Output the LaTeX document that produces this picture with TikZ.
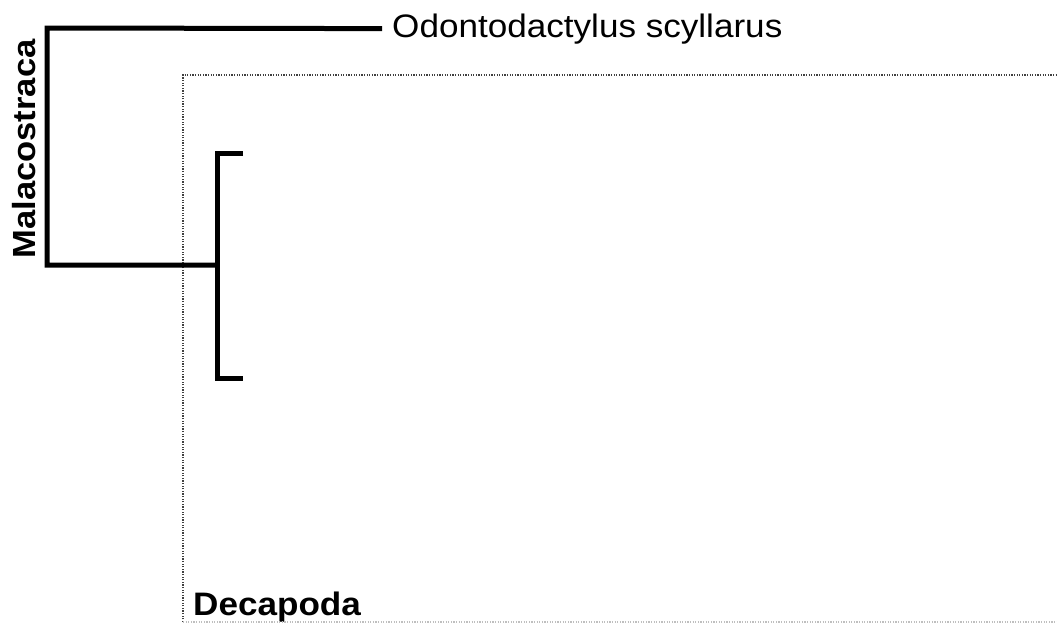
\documentclass[tikz,border=0pt]{standalone}
\usepackage{fontspec}
\setmainfont[FakeStretch=1.08]{Liberation Sans}
\begin{document}
\begin{tikzpicture}[x=1pt,y=-1pt,
    cabang/.style={line width=5pt},
    kotak/.style={line width=1.2pt,dash pattern=on 1.2pt off 1.4pt,black!75}]
      \useasboundingbox (0,0) rectangle (1057,625);

      % Koordinat titik cabang pohon
      \coordinate (A) at (47,28);
      \coordinate (B) at (47,265);
      \coordinate (C) at (217,265);
      \coordinate (D) at (217,153);
      \coordinate (E) at (217,378);
      \coordinate (F) at (243,153);
      \coordinate (G) at (243,378);

      % Koordinat sudut kotak bertitik (Decapoda)
      \coordinate (K1) at (183,622);
      \coordinate (K2) at (183,75);
      \coordinate (K3) at (1062,75);
      \coordinate (K4) at (1062,622);

      % Label takson
      \node[anchor=base west,inner sep=0pt,font=\fontsize{32.5}{36}\selectfont]
        (odo) at (392,37) {Odontodactylus scyllarus};
      \node[anchor=base,inner sep=0pt,rotate=90,font=\fontsize{32}{36}\selectfont\bfseries]
        (mal) at (35,149) {Malacostraca};
      \node[anchor=base west,inner sep=0pt,font=\fontsize{32.5}{36}\selectfont\bfseries]
        (dec) at (193,615) {Decapoda};
      \coordinate (O) at ([xshift=-10pt]odo.west);

      % Menggambar kotak bertitik
      \draw[kotak] (K1) -- (K2) -- (K3);
      \draw[kotak,black!25] (K1) -- (K4);

      % Menggambar cabang-cabang pohon
      \draw[cabang] (O) -- (A) -- (B) -- (C);
      \draw[cabang] (F) -- (D) -- (E) -- (G);
    \end{tikzpicture}
\end{document}
